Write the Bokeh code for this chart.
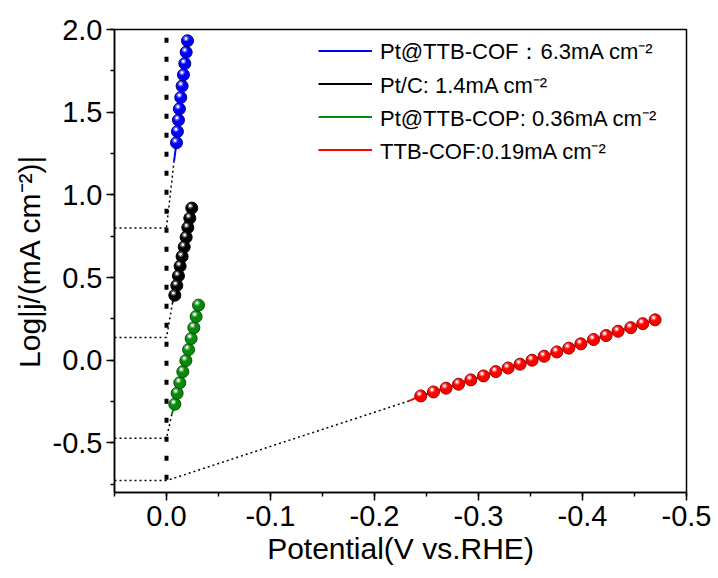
from bokeh.plotting import figure
from bokeh.models import Range1d, FixedTicker, PrintfTickFormatter, Legend, LegendItem
from bokeh.embed import file_html
from bokeh.resources import INLINE

# ---------------- data ----------------
blue_x = [-0.0096, -0.0105, -0.0115, -0.0124, -0.0137, -0.0150, -0.0163, -0.0176, -0.0189, -0.0202]
blue_y = [1.315, 1.383, 1.452, 1.520, 1.589, 1.658, 1.726, 1.794, 1.863, 1.932]
blue_tail = (-0.0073, 1.206)

black_x = [-0.0080, -0.0099, -0.0115, -0.0131, -0.0150, -0.0170, -0.0189, -0.0205, -0.0224, -0.0243]
black_y = [0.393, 0.452, 0.510, 0.569, 0.627, 0.685, 0.744, 0.802, 0.859, 0.920]
black_tail = (-0.0058, 0.348)

green_x = [-0.0080, -0.0102, -0.0128, -0.0157, -0.0186, -0.0212, -0.0237, -0.0263, -0.0285, -0.0308]
green_y = [-0.266, -0.200, -0.136, -0.069, -0.002, 0.064, 0.131, 0.197, 0.264, 0.333]
green_tail = (-0.0051, -0.327)

red_x = [-0.2445, -0.2567, -0.2688, -0.2808, -0.2926, -0.3048, -0.3166, -0.3285, -0.3400, -0.3515,
         -0.3631, -0.3753, -0.3868, -0.3984, -0.4106, -0.4227, -0.4342, -0.4464, -0.4579, -0.4698]
red_y = [-0.216, -0.192, -0.169, -0.145, -0.119, -0.095, -0.069, -0.047, -0.024, 0.000,
         0.024, 0.050, 0.073, 0.099, 0.125, 0.149, 0.175, 0.197, 0.221, 0.244]
red_tail = (-0.2333, -0.246)

# log j at 0 V (intercepts of the Tafel extrapolations)
intercepts = [0.80, 0.137, -0.472, -0.728]

labels = ["Pt@TTB-COF\uff1a6.3mA cm\u207b\u00b2",
          "Pt/C: 1.4mA cm\u207b\u00b2",
          "Pt@TTB-COP: 0.36mA cm\u207b\u00b2",
          "TTB-COF:0.19mA cm\u207b\u00b2"]

x_title = "Potential(V vs.RHE)"
y_title = "Log|j/(mA cm\u207b\u00b2)|"

x_ticks = [0.0, -0.1, -0.2, -0.3, -0.4, -0.5]
x_minor = [0.05, 0.0, -0.05, -0.1, -0.15, -0.2, -0.25, -0.3, -0.35, -0.4, -0.45, -0.5]
y_ticks = [-0.5, 0.0, 0.5, 1.0, 1.5, 2.0]
y_minor = [-0.75, -0.5, -0.25, 0.0, 0.25, 0.5, 0.75, 1.0, 1.25, 1.5, 1.75, 2.0]

X_START, X_END = 0.05, -0.5
Y_START, Y_END = -0.8, 2.0

# ---------------- figure ----------------
W, H = 718, 578
BL, BR, BT, BB = 114, 32, 29, 86
p = figure(width=W, height=H, output_backend="svg", toolbar_location=None,
           x_range=Range1d(X_START, X_END), y_range=Range1d(Y_START, Y_END),
           min_border_left=BL, min_border_right=BR, min_border_top=BT, min_border_bottom=BB,
           x_axis_label=x_title, y_axis_label=y_title)
p.background_fill_color = "white"
p.border_fill_color = "white"
p.outline_line_color = "black"
p.outline_line_width = 1.5
p.xgrid.visible = False
p.ygrid.visible = False

FONT = "Liberation Sans"
for ax in (p.xaxis[0], p.yaxis[0]):
    ax.axis_line_width = 1.5
    ax.axis_line_color = "black"
    ax.major_tick_out = 8
    ax.major_tick_in = 0
    ax.minor_tick_out = 4
    ax.minor_tick_in = 0
    ax.major_tick_line_width = 1.5
    ax.minor_tick_line_width = 1.5
    ax.major_label_text_font = FONT
    ax.major_label_text_font_size = "29px"
    ax.major_label_text_color = "black"
    ax.axis_label_text_font = FONT
    ax.axis_label_text_font_size = "30px"
    ax.axis_label_text_font_style = "normal"
    ax.axis_label_text_color = "black"
    ax.formatter = PrintfTickFormatter(format="%.1f")
p.xaxis[0].ticker = FixedTicker(ticks=x_ticks, minor_ticks=x_minor)
p.yaxis[0].ticker = FixedTicker(ticks=y_ticks, minor_ticks=y_minor)
p.xaxis[0].major_label_standoff = 5
p.yaxis[0].major_label_standoff = 4
p.xaxis[0].axis_label_standoff = 3
p.yaxis[0].axis_label_standoff = 4

frame_w = W - BL - BR
frame_h = H - BT - BB
DX = (X_END - X_START) / frame_w   # data per px to the right
DY = (Y_END - Y_START) / frame_h   # data per px upward

# ---------------- guide lines ----------------
# horizontal dotted lines from the y axis to 0 V
p.segment(x0=[X_START] * len(intercepts), y0=intercepts, x1=[0.0] * len(intercepts), y1=intercepts,
          line_color="black", line_width=1.5, line_dash="2 3")
# Tafel extrapolations
tails = [blue_tail, black_tail, green_tail, red_tail]
p.segment(x0=[t[0] for t in tails], y0=[t[1] for t in tails],
          x1=[0.0] * len(tails), y1=intercepts,
          line_color="black", line_width=1.5, line_dash="2 3")
# thick vertical dotted line at 0 V
p.line([0.0, 0.0], [1.95, Y_START], line_color="black", line_width=4, line_dash="5 14")

# ---------------- series ----------------
series = [
    (blue_x, blue_y, blue_tail, "#0000FF", "#00007A", labels[0]),
    (black_x, black_y, black_tail, "#000000", "#000000", labels[1]),
    (green_x, green_y, green_tail, "#0A8A0A", "#03500A", labels[2]),
    (red_x, red_y, red_tail, "#FF0000", "#A00000", labels[3]),
]
items = []
for xs, ys, tail, col, edge, lab in series:
    lr = p.line([tail[0]] + xs, [tail[1]] + ys, line_color=col, line_width=2)
    items.append(LegendItem(label=lab, renderers=[lr]))
    p.scatter(xs, ys, size=12, fill_color=col, line_color=edge, line_width=1)
    hx = [x - 1.5 * DX for x in xs]
    hy = [y + 2.2 * DY for y in ys]
    p.scatter(hx, hy, size=5.5, fill_color="white", fill_alpha=0.35, line_alpha=0)
    p.scatter(hx, hy, size=2.8, fill_color="white", fill_alpha=0.95, line_alpha=0)

legend = Legend(items=items, location=(204, 326), padding=0, spacing=0, margin=0,
                glyph_width=54, glyph_height=33, label_height=33, label_standoff=8,
                label_text_font=FONT, label_text_font_size="22px", label_text_color="black",
                border_line_alpha=0, background_fill_alpha=0)
p.add_layout(legend)

open("out.html", "w").write(file_html(p, INLINE))
